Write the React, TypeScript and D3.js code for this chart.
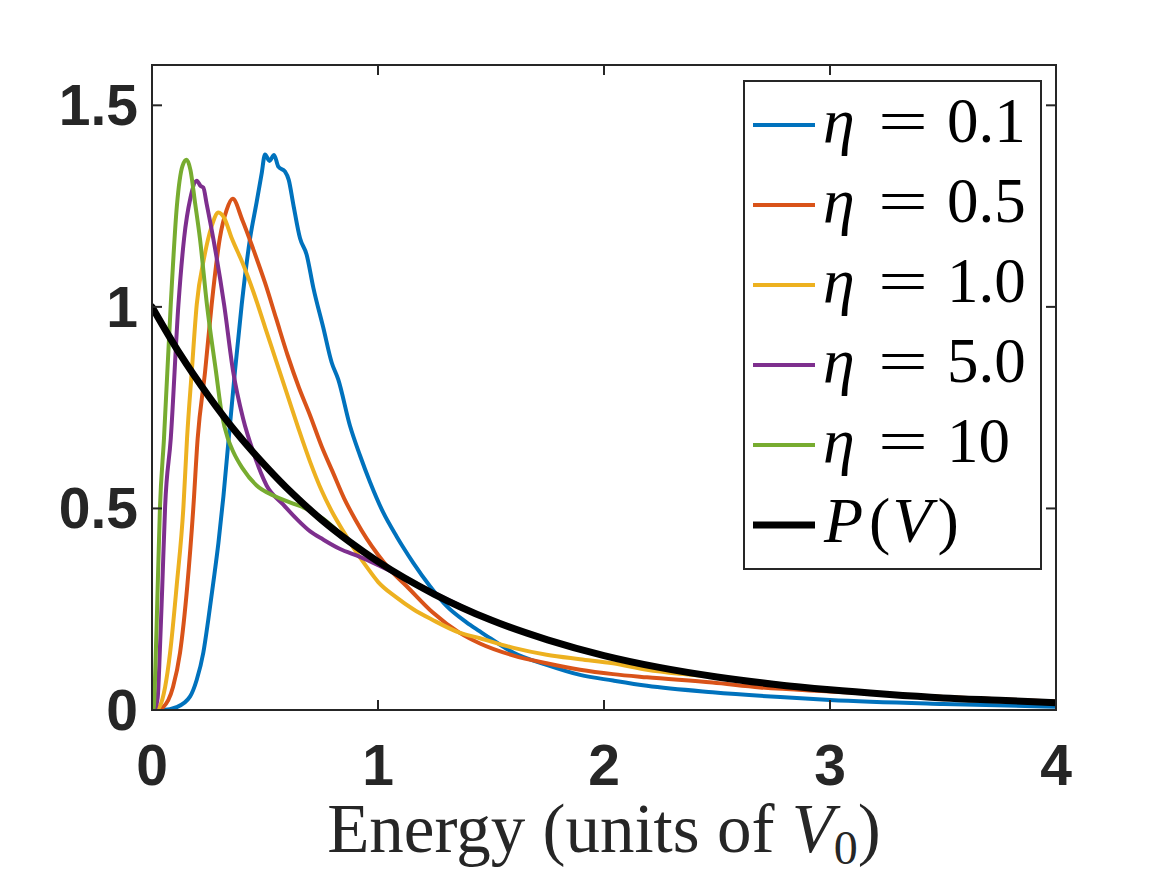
import React from "react";
import * as d3 from "d3";

const W = 1167;
const H = 875;
const M = { left: 152, right: 1056, top: 65, bottom: 710 };

const xTicks = [0, 1, 2, 3, 4];
const yTicks = [0, 0.5, 1, 1.5];
const yTickLabels = ["0", "0.5", "1", "1.5"];
const xTickLabels = ["0", "1", "2", "3", "4"];

type P = [number, number];

const eta01: P[] = [
  [0, 0], [0.05, 0], [0.109, 0.007], [0.168, 0.033], [0.198, 0.075], [0.227, 0.142],
  [0.249, 0.224], [0.271, 0.315], [0.294, 0.415], [0.316, 0.53], [0.338, 0.665],
  [0.367, 0.84], [0.397, 1.006], [0.434, 1.17], [0.463, 1.26],
  [0.485, 1.33], [0.5, 1.378], [0.52, 1.362], [0.54, 1.377], [0.559, 1.348],
  [0.588, 1.336], [0.605, 1.315], [0.625, 1.255], [0.655, 1.17], [0.684, 1.13],
  [0.714, 1.047], [0.758, 0.948], [0.795, 0.862], [0.824, 0.82], [0.876, 0.705],
  [0.92, 0.632], [0.965, 0.565], [1.023, 0.49], [1.083, 0.43], [1.11, 0.405],
  [1.156, 0.365], [1.23, 0.307], [1.305, 0.257], [1.393, 0.217], [1.451, 0.195],
  [1.496, 0.178], [1.6, 0.142], [1.746, 0.112], [1.894, 0.087], [2.04, 0.073],
  [2.19, 0.06], [2.48, 0.044], [2.78, 0.032], [3.0, 0.025], [3.5, 0.015], [4, 0.008],
];

const eta05: P[] = [
  [0, 0], [0.02, 0], [0.049, 0.007], [0.093, 0.057], [0.124, 0.142], [0.156, 0.307],
  [0.183, 0.503], [0.202, 0.673], [0.235, 0.84], [0.264, 1.006], [0.3, 1.17],
  [0.33, 1.24], [0.357, 1.268], [0.4, 1.215], [0.45, 1.14], [0.5, 1.06],
  [0.55, 0.97], [0.6, 0.88], [0.65, 0.8], [0.7, 0.73], [0.75, 0.655],
  [0.8, 0.59], [0.85, 0.525], [0.9, 0.472], [0.95, 0.425], [1.0, 0.385],
  [1.05, 0.35], [1.127, 0.307], [1.24, 0.243], [1.36, 0.192], [1.451, 0.165],
  [1.6, 0.135], [1.746, 0.116], [1.894, 0.1], [2.04, 0.089], [2.19, 0.081],
  [2.48, 0.068], [2.69, 0.056], [3.0, 0.046], [3.5, 0.032], [4, 0.021],
];

const eta10: P[] = [
  [0, 0], [0.015, 0], [0.035, 0.01], [0.058, 0.057], [0.08, 0.142], [0.109, 0.307],
  [0.139, 0.503], [0.155, 0.673], [0.176, 0.84], [0.198, 1.006], [0.23, 1.12],
  [0.264, 1.2], [0.294, 1.234], [0.32, 1.22], [0.353, 1.17], [0.4, 1.11],
  [0.45, 1.035], [0.5, 0.95], [0.55, 0.865], [0.6, 0.78], [0.65, 0.695],
  [0.7, 0.615], [0.75, 0.545], [0.8, 0.488], [0.85, 0.44], [0.9, 0.395],
  [0.95, 0.355], [1.0, 0.318], [1.08, 0.28], [1.156, 0.25], [1.24, 0.224],
  [1.36, 0.192], [1.451, 0.178], [1.6, 0.154], [1.746, 0.137], [1.894, 0.126],
  [2.04, 0.116], [2.19, 0.1], [2.336, 0.09], [2.5, 0.082], [2.69, 0.07],
  [3.0, 0.052], [3.5, 0.032], [4, 0.02],
];

const eta50: P[] = [
  [0, 0], [0.01, 0], [0.025, 0.03], [0.035, 0.15], [0.045, 0.3], [0.058, 0.504],
  [0.083, 0.673], [0.117, 1.006], [0.142, 1.17], [0.17, 1.27], [0.198, 1.313],
  [0.215, 1.3], [0.227, 1.296], [0.242, 1.255], [0.271, 1.17], [0.319, 1.006],
  [0.359, 0.84], [0.403, 0.723], [0.448, 0.64], [0.507, 0.557], [0.58, 0.51],
  [0.64, 0.474], [0.7, 0.443], [0.757, 0.423], [0.83, 0.4], [0.92, 0.38],
  [1.01, 0.357], [1.11, 0.33], [1.25, 0.29], [1.5, 0.224], [2, 0.136],
  [2.5, 0.082], [3, 0.05], [3.5, 0.03], [4, 0.018],
];

const eta100: P[] = [
  [0, 0], [0.006, 0], [0.02, 0.2], [0.035, 0.5], [0.053, 0.673], [0.083, 1.006],
  [0.11, 1.25], [0.135, 1.35], [0.153, 1.365], [0.17, 1.34], [0.19, 1.26],
  [0.212, 1.17], [0.243, 1.006], [0.283, 0.84], [0.31, 0.73], [0.336, 0.673],
  [0.36, 0.64], [0.4, 0.6], [0.463, 0.557], [0.537, 0.532], [0.61, 0.515],
  [0.684, 0.499], [0.758, 0.474], [0.85, 0.43], [1.0, 0.369], [1.25, 0.287],
  [1.5, 0.223], [2, 0.135], [2.5, 0.082], [3, 0.05], [3.5, 0.03], [4, 0.018],
];

const pV: P[] = [
  [0, 1], [0.125, 0.882], [0.25, 0.779], [0.375, 0.687], [0.5, 0.607], [0.625, 0.535],
  [0.75, 0.472], [0.875, 0.417], [1, 0.368], [1.25, 0.287], [1.5, 0.223],
  [1.75, 0.174], [2, 0.135], [2.25, 0.105], [2.5, 0.082], [2.75, 0.064],
  [3, 0.05], [3.25, 0.039], [3.5, 0.03], [3.75, 0.024], [4, 0.018],
];

const seriesNames = ["0.1", "0.5", "1.0", "5.0", "10"];
const seriesData = [eta01, eta05, eta10, eta50, eta100];
const seriesColors = ["#0072BD", "#D95319", "#EDB120", "#7E2F8E", "#77AC30"];

const AX = "#262626";

export default function App() {
  const x = d3.scaleLinear().domain([0, 4]).range([M.left, M.right]);
  const y = d3.scaleLinear().domain([0, 1.6]).range([M.bottom, M.top]);
  const line = d3
    .line<P>()
    .x((d) => x(d[0]))
    .y((d) => y(d[1]))
    .curve(d3.curveMonotoneX);

  const tickLen = 10;
  const legX = 744, legY = 81, legW = 297, legH = 488;
  const rowY = (i: number) => 125 + 80 * i;
  const serif = "'Liberation Serif', 'Times New Roman', serif";
  const sans = "'Liberation Sans', Arial, Helvetica, sans-serif";

  return (
    <svg
      width={W}
      height={H}
      style={{ position: "absolute", left: 0, top: 0, background: "#fff" }}
    >
      <defs>
        <clipPath id="plotClip">
          <rect x={M.left} y={M.top} width={M.right - M.left} height={M.bottom - M.top} />
        </clipPath>
      </defs>
      <rect x={0} y={0} width={W} height={H} fill="#fff" />

      <g clipPath="url(#plotClip)" fill="none" strokeLinejoin="round" strokeLinecap="round">
        {seriesData.map((s, i) => (
          <path key={i} d={line(s) || ""} stroke={seriesColors[i]} strokeWidth={4} />
        ))}
        <path d={line(pV) || ""} stroke="#000" strokeWidth={7} />
      </g>

      <rect
        x={M.left}
        y={M.top}
        width={M.right - M.left}
        height={M.bottom - M.top}
        fill="none"
        stroke={AX}
        strokeWidth={2}
      />
      {xTicks.map((t) => (
        <g key={"xt" + t}>
          <line x1={x(t)} x2={x(t)} y1={M.bottom} y2={M.bottom - tickLen} stroke={AX} strokeWidth={2} />
          <line x1={x(t)} x2={x(t)} y1={M.top} y2={M.top + tickLen} stroke={AX} strokeWidth={2} />
        </g>
      ))}
      {yTicks.map((t) => (
        <g key={"yt" + t}>
          <line x1={M.left} x2={M.left + tickLen} y1={y(t)} y2={y(t)} stroke={AX} strokeWidth={2} />
          <line x1={M.right} x2={M.right - tickLen} y1={y(t)} y2={y(t)} stroke={AX} strokeWidth={2} />
        </g>
      ))}

      {xTicks.map((t, i) => (
        <text
          key={"xl" + t}
          x={x(t)}
          y={785}
          textAnchor="middle"
          fontFamily={sans}
          fontWeight="bold"
          fontSize={57}
          fill={AX}
        >
          {xTickLabels[i]}
        </text>
      ))}
      {yTicks.map((t, i) => (
        <text
          key={"yl" + t}
          x={138}
          y={y(t) + 20}
          textAnchor="end"
          fontFamily={sans}
          fontWeight="bold"
          fontSize={57}
          fill={AX}
        >
          {yTickLabels[i]}
        </text>
      ))}

      <text
        x={(M.left + M.right) / 2}
        y={852}
        textAnchor="middle"
        fontFamily={serif}
        fontSize={69}
        fill={AX}
      >
        Energy (units of <tspan fontStyle="italic">V</tspan>
        <tspan fontSize={48} dy={12}>0</tspan>
        <tspan dy={-12}>)</tspan>
      </text>

      <rect x={legX} y={legY} width={legW} height={legH} fill="#fff" stroke={AX} strokeWidth={2} />
      {seriesNames.map((n, i) => (
        <g key={"lg" + i}>
          <line x1={753} x2={815} y1={rowY(i)} y2={rowY(i)} stroke={seriesColors[i]} strokeWidth={4} />
          <text x={823} y={rowY(i) + 17} fontFamily={serif} fontStyle="italic" fontSize={64} fill="#000">
            η
          </text>
          <text
            x={878}
            y={rowY(i) + 17}
            fontFamily={serif}
            fontSize={62}
            fill="#000"
            textLength={50}
            lengthAdjust="spacingAndGlyphs"
          >
            =
          </text>
          <text x={947} y={rowY(i) + 17} fontFamily={serif} fontSize={63} fill="#000">
            {n}
          </text>
        </g>
      ))}
      <line x1={753} x2={815} y1={rowY(5)} y2={rowY(5)} stroke="#000" strokeWidth={7} />
      <text x={824} y={rowY(5) + 17} fontFamily={serif} fontSize={64} fill="#000">
        <tspan fontStyle="italic">P</tspan>
        <tspan dx={6}>(</tspan>
        <tspan fontStyle="italic" dx={2}>V</tspan>
        <tspan dx={6}>)</tspan>
      </text>
    </svg>
  );
}
